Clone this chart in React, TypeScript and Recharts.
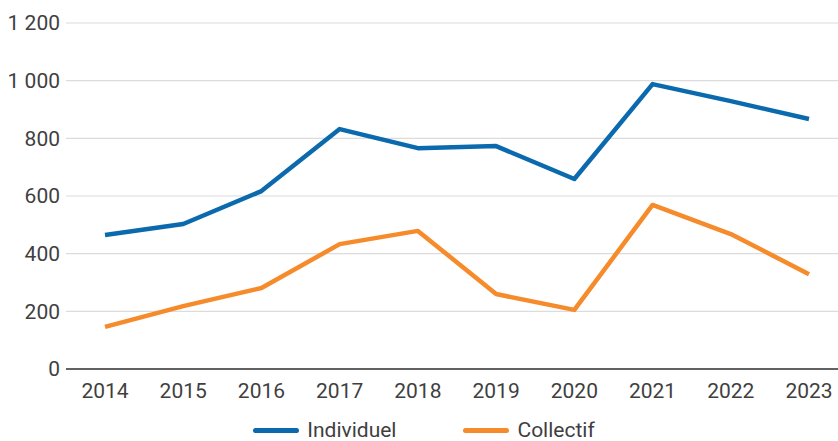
import React from "react";
import { CartesianGrid, Legend, Line, LineChart, XAxis, YAxis } from "recharts";

const years = ["2014", "2015", "2016", "2017", "2018", "2019", "2020", "2021", "2022", "2023"];
const individuel = [465, 503, 617, 832, 766, 773, 659, 988, 929, 867];
const collectif = [146, 218, 281, 433, 479, 260, 205, 569, 468, 329];
const yTicks = [0, 200, 400, 600, 800, 1000, 1200];

const data = years.map((year, i) => ({
  year,
  Individuel: individuel[i],
  Collectif: collectif[i],
}));

const BLUE = "#0b6aad";
const ORANGE = "#f68b2c";
const TEXT = "#3f3f3f";

const formatThousands = (v: number) => String(v).replace(/\B(?=(\d{3})+(?!\d))/g, " ");

const LegendContent = () => (
  <div
    style={{
      display: "flex",
      justifyContent: "center",
      alignItems: "center",
      height: 22,
      paddingTop: 10,
      fontFamily: "Roboto",
      fontSize: 21,
      lineHeight: "18px",
      color: TEXT,
    }}
  >
    {[
      { name: "Individuel", color: BLUE },
      { name: "Collectif", color: ORANGE },
    ].map((item, i) => (
      <div key={item.name} style={{ display: "flex", alignItems: "center", marginLeft: i ? 67 : 0 }}>
        <span
          style={{
            display: "inline-block",
            width: 46,
            height: 5,
            borderRadius: 3,
            background: item.color,
            marginRight: 8,
          }}
        />
        <span>{item.name}</span>
      </div>
    ))}
  </div>
);

export default function App() {
  return (
    <div style={{ position: "absolute", top: 0, left: 0, width: 838, height: 441, overflow: "hidden", background: "#fff" }}>
      <LineChart
        width={850}
        height={441}
        data={data}
        margin={{ top: 23, right: 2, left: 0, bottom: 0 }}
        style={{ fontFamily: "Roboto" }}
      >
        <CartesianGrid vertical={false} stroke="#dcdcdc" strokeWidth={1.2} />
        <XAxis
          dataKey="year"
          height={40}
          padding={{ left: 39, right: 39 }}
          tickLine={false}
          tickSize={0}
          tickMargin={14}
          axisLine={{ stroke: "#333", strokeWidth: 1.5 }}
          tick={{ fill: TEXT, fontSize: 21 }}
        />
        <YAxis
          width={66}
          domain={[0, 1200]}
          ticks={yTicks}
          axisLine={false}
          tickLine={false}
          tickSize={0}
          tickMargin={6}
          tickFormatter={formatThousands}
          tick={{ fill: TEXT, fontSize: 21 }}
        />
        <Legend verticalAlign="bottom" content={<LegendContent />} />
        <Line
          dataKey="Individuel"
          stroke={BLUE}
          strokeWidth={4.5}
          dot={false}
          strokeLinejoin="round"
          isAnimationActive={false}
        />
        <Line
          dataKey="Collectif"
          stroke={ORANGE}
          strokeWidth={4.5}
          dot={false}
          strokeLinejoin="round"
          isAnimationActive={false}
        />
      </LineChart>
    </div>
  );
}
